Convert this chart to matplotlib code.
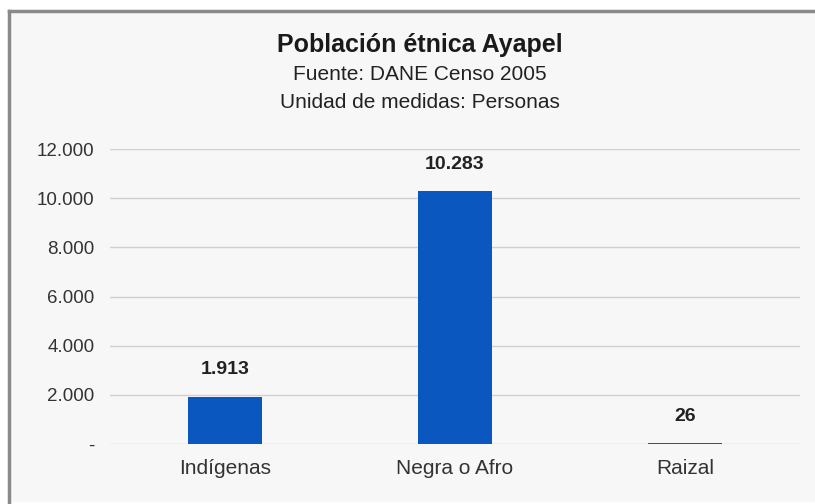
import matplotlib.pyplot as plt
from matplotlib.patches import Rectangle

plt.rcParams["font.family"] = ["Liberation Sans", "DejaVu Sans"]

categorias = ["Indígenas", "Negra o Afro", "Raizal"]
personas = [1913, 10283, 26]
etiquetas = ["1.913", "10.283", "26"]
ticks_y = [0, 2000, 4000, 6000, 8000, 10000, 12000]
ticks_lbl = ["-", "2.000", "4.000", "6.000", "8.000", "10.000", "12.000"]

fig = plt.figure(figsize=(8.15, 5.04), dpi=100)
fig.patch.set_facecolor("white")

# marco gris del grafico original
fig.add_artist(Rectangle((9 / 815, 2 / 504), 806 / 815, 491 / 504,
                         transform=fig.transFigure, facecolor="#f7f7f7",
                         edgecolor="none", zorder=-5))
fig.add_artist(plt.Line2D([9 / 815, 815 / 815], [493 / 504, 493 / 504],
                          transform=fig.transFigure, color="#8a8a8a", lw=2.5, zorder=-4))
fig.add_artist(plt.Line2D([9 / 815, 9 / 815], [2 / 504, 493 / 504],
                          transform=fig.transFigure, color="#8a8a8a", lw=2.5, zorder=-4))

ax = fig.add_axes([110 / 815, 60 / 504, 690 / 815, 295 / 504])
ax.set_facecolor("none")

x = range(len(categorias))
ax.bar(x, personas, width=0.32, color="#0b57c0", zorder=3)
for xi, v, t in zip(x, personas, etiquetas):
    ax.text(xi, v + 1100, t, ha="center", va="center", fontsize=14,
            fontweight="bold", color="#222222")

ax.set_xlim(-0.5, 2.5)
ax.set_ylim(0, 12000)
ax.set_yticks(ticks_y)
ax.set_yticklabels(ticks_lbl, fontsize=13.5, color="#333333")
ax.set_xticks(list(x))
ax.set_xticklabels(categorias, fontsize=15, color="#333333")
ax.tick_params(length=0, axis="y", pad=11)
ax.tick_params(length=0, axis="x", pad=11)
ax.grid(axis="y", color="#d0d0d0", lw=1, zorder=0)
for s in ax.spines.values():
    s.set_visible(False)

fig.text(420 / 815, 1 - 45 / 504, "Población étnica Ayapel", ha="center", va="center",
         fontsize=18, fontweight="bold", color="#1a1a1a")
fig.text(420 / 815, 1 - 75 / 504, "Fuente: DANE Censo 2005", ha="center", va="center",
         fontsize=15, color="#222222")
fig.text(420 / 815, 1 - 103 / 504, "Unidad de medidas: Personas", ha="center", va="center",
         fontsize=15, color="#222222")

fig.savefig("out.png", dpi=100)
